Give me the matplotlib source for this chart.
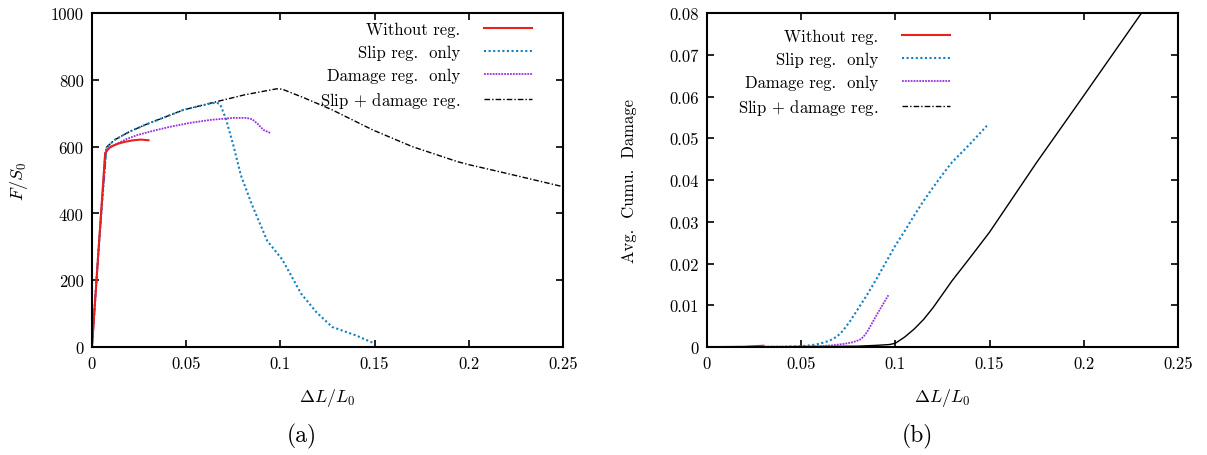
import matplotlib
matplotlib.use('Agg')
import matplotlib.pyplot as plt
from matplotlib.lines import Line2D
from matplotlib.ticker import FuncFormatter, MultipleLocator

plt.rcParams['font.family'] = 'serif'
plt.rcParams['font.serif'] = ['cmr10']
plt.rcParams['mathtext.fontset'] = 'cm'
plt.rcParams['axes.unicode_minus'] = False
plt.rcParams['axes.formatter.use_mathtext'] = True

# (a) force curves
red_x = [0, 0.0035, 0.007, 0.0085, 0.010, 0.014, 0.018, 0.022, 0.026, 0.030]
red_y = [0, 290, 580, 592, 600, 609, 615, 619, 621, 619]

blue_x = [0, 0.0035, 0.0077, 0.012, 0.02, 0.029, 0.0486, 0.062, 0.066, 0.068, 0.071,
          0.075, 0.079, 0.085, 0.093, 0.101, 0.111, 0.119, 0.1275, 0.14, 0.149]
blue_y = [0, 295, 598, 620, 645, 667, 710, 728, 732, 727, 685,
          605, 515, 425, 318, 262, 160, 105, 60, 35, 13]

purple_x = [0, 0.0035, 0.007, 0.0085, 0.012, 0.018, 0.0243, 0.033, 0.042, 0.052,
            0.063, 0.075, 0.082, 0.085, 0.088, 0.091, 0.095]
purple_y = [0, 290, 582, 593, 605, 622, 635, 648, 660, 671,
            680, 686, 686, 682, 668, 650, 640]

black_x = [0, 0.0035, 0.0077, 0.012, 0.02, 0.029, 0.0486, 0.065, 0.081, 0.098, 0.101,
           0.113, 0.1275, 0.149, 0.17, 0.194, 0.2, 0.22, 0.25]
black_y = [0, 295, 598, 620, 645, 667, 710, 733, 755, 773, 772,
           745, 710, 650, 600, 555, 546, 520, 480]

# (b) damage curves
red_d_x = [0, 0.01, 0.02, 0.025, 0.03]
red_d_y = [0, 0, 0.00005, 0.0002, 0.0003]

blue_d_x = [0, 0.02, 0.04, 0.05, 0.055, 0.06, 0.065, 0.069, 0.072, 0.076, 0.08, 0.085,
            0.09, 0.095, 0.1, 0.105, 0.11, 0.115, 0.12, 0.125, 0.13, 0.135, 0.14, 0.1486]
blue_d_y = [0, 0, 0.00005, 0.0002, 0.0004, 0.0008, 0.0015, 0.0025, 0.0038, 0.0062, 0.009, 0.0125,
            0.0163, 0.0203, 0.0243, 0.0278, 0.0315, 0.035, 0.0382, 0.0413, 0.0442, 0.0465, 0.0488, 0.053]

purple_d_x = [0, 0.03, 0.05, 0.06, 0.0666, 0.072, 0.077, 0.081, 0.083, 0.085, 0.087, 0.091, 0.0963]
purple_d_y = [0, 0.0001, 0.0001, 0.0002, 0.0004, 0.0007, 0.0011, 0.0017, 0.0024, 0.0036, 0.0052, 0.0084, 0.0124]

black_d_x = [0, 0.05, 0.08, 0.09, 0.097, 0.1, 0.105, 0.11, 0.115, 0.12, 0.125,
             0.13, 0.14, 0.15, 0.175, 0.2, 0.2307]
black_d_y = [0, 0.0001, 0.0002, 0.0004, 0.0006, 0.0009, 0.0024, 0.0043, 0.0066, 0.0094, 0.0126,
             0.0158, 0.0216, 0.0275, 0.0442, 0.0602, 0.08]

labels = ['Without reg.', 'Slip reg.  only', 'Damage reg.  only', r'Slip $+$ damage reg.']

c_red = '#e8211d'
c_blue = '#1480c4'
c_purple = '#9a2fe0'
c_black = 'black'
dashdot = (0, (4, 1.5, 1, 1.5))
dots_b = (0, (1, 1.2))
dots_p = (0, (1, 0.6))

fig = plt.figure(figsize=(12.07, 4.56), dpi=100)
ax1 = fig.add_axes([0.0762, 0.2368, 0.3902, 0.7325])
ax2 = fig.add_axes([0.5857, 0.2368, 0.3902, 0.7325])

ax1.plot(black_x, black_y, color=c_black, lw=1.0, ls=dashdot)
ax1.plot(blue_x, blue_y, color=c_blue, lw=1.5, ls=dots_b)
ax1.plot(purple_x, purple_y, color=c_purple, lw=1.3, ls=dots_p)
ax1.plot(red_x, red_y, color=c_red, lw=1.5)

ax2.plot(black_d_x, black_d_y, color=c_black, lw=1.0)
ax2.plot(blue_d_x, blue_d_y, color=c_blue, lw=1.5, ls=dots_b)
ax2.plot(purple_d_x, purple_d_y, color=c_purple, lw=1.3, ls=dots_p)
ax2.plot(red_d_x, red_d_y, color=c_red, lw=1.5)

handles = [Line2D([], [], color=c_red, lw=1.5),
           Line2D([], [], color=c_blue, lw=1.5, ls=dots_b),
           Line2D([], [], color=c_purple, lw=1.3, ls=dots_p),
           Line2D([], [], color=c_black, lw=1.0, ls=dashdot)]

fmt = FuncFormatter(lambda v, p: '%g' % round(v, 6))

for ax in (ax1, ax2):
    ax.set_xlim(0, 0.25)
    ax.xaxis.set_major_locator(MultipleLocator(0.05))
    ax.xaxis.set_major_formatter(fmt)
    ax.yaxis.set_major_formatter(fmt)
    ax.tick_params(direction='in', top=True, right=True, length=5, width=1.2,
                   labelsize=12, pad=6)
    for s in ax.spines.values():
        s.set_linewidth(1.5)
    ax.set_xlabel(r'$\Delta L/L_0$', fontsize=13)
    ax.xaxis.set_label_coords(0.5, -0.117)

ax1.set_ylim(0, 1000)
ax1.yaxis.set_major_locator(MultipleLocator(200))
ax1.set_ylabel(r'$F/S_0$', fontsize=13)
ax1.yaxis.set_label_coords(-0.132, 0.5)

ax2.set_ylim(0, 0.08)
ax2.yaxis.set_major_locator(MultipleLocator(0.01))
ax2.set_ylabel('Avg.  Cumu.  Damage', fontsize=12)
ax2.yaxis.set_label_coords(-0.148, 0.5)

leg_kw = dict(frameon=False, markerfirst=False, fontsize=12, handlelength=2.9,
              handletextpad=1.4, labelspacing=0.45, borderpad=0, borderaxespad=0,
              loc='upper right', bbox_transform=fig.transFigure)
ax1.legend(handles, labels, bbox_to_anchor=(0.4408, 0.95), **leg_kw)
ax2.legend(handles, labels, bbox_to_anchor=(0.787, 0.935), **leg_kw)

fig.text(0.250, 0.042, '(a)', fontsize=17, ha='center', va='center')
fig.text(0.760, 0.042, '(b)', fontsize=17, ha='center', va='center')

fig.savefig('out.png', dpi=100)
